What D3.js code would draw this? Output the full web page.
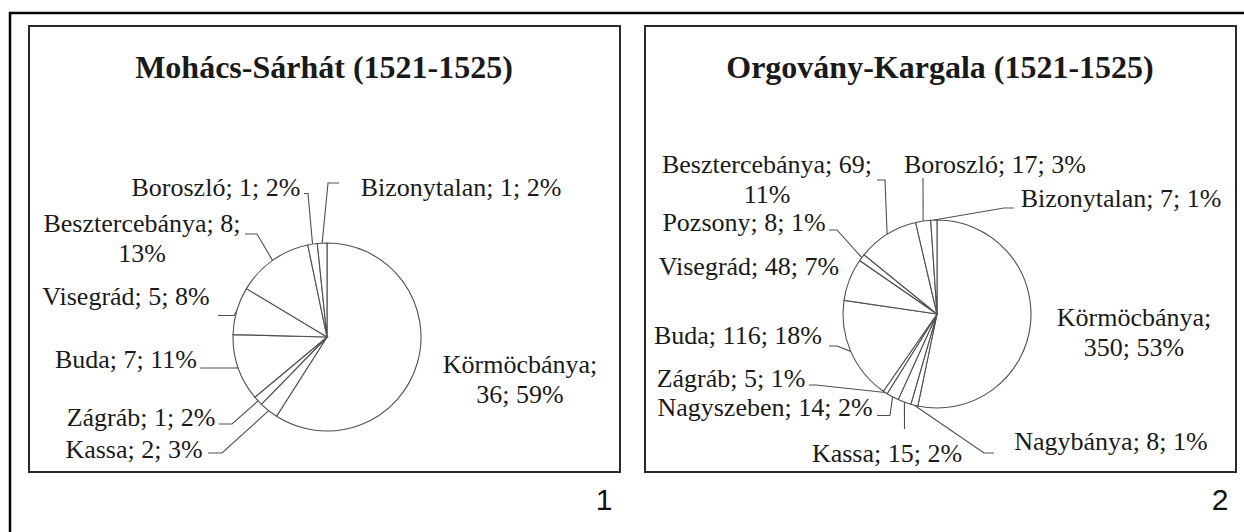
<!DOCTYPE html>
<html>
<head>
<meta charset="utf-8">
<script src="https://cdn.jsdelivr.net/npm/d3@7"></script>
<style>
  body { margin: 0; background: #fff; }
  svg { display: block; }
</style>
</head>
<body>
<div id="chart"></div>
<script>
// two pie charts of coin finds by mint (1521-1525)

var Width = 1244;
var Height = 532;
var Radius = 94;

// data
var mohacsTitle = "Mohács-Sárhát (1521-1525)";
var mohacsCities = ["Körmöcbánya", "Kassa", "Zágráb", "Buda", "Visegrád",
                    "Besztercebánya", "Boroszló", "Bizonytalan"];
var mohacsCounts = [36, 2, 1, 7, 5, 8, 1, 1];

var orgovanyTitle = "Orgovány-Kargala (1521-1525)";
var orgovanyCities = ["Körmöcbánya", "Nagybánya", "Kassa", "Nagyszeben", "Zágráb",
                      "Buda", "Visegrád", "Pozsony", "Besztercebánya", "Boroszló",
                      "Bizonytalan"];
var orgovanyCounts = [350, 8, 15, 14, 5, 116, 48, 8, 69, 17, 7];

var panelNumbers = ["1", "2"];

// label placement (relative to pie centre): text centre x, baseline y, wrap mode
// wrap: 0 = one line, 1 = break after name, 2 = break after count
// leader: [end x, end y, elbow x] or null
var mohacsLayout = [
    {tx: 193, ty: 36, wrap: 1, leader: null},
    {tx: -193, ty: 121, wrap: 0, leader: [-119, 116, -105]},
    {tx: -186, ty: 89, wrap: 0, leader: [-108, 87, -95]},
    {tx: -201, ty: 31, wrap: 0, leader: [-127, 31, -94]},
    {tx: -201, ty: -32, wrap: 0, leader: [-109, -21.5, -93]},
    {tx: -185, ty: -105, wrap: 2, leader: [-82, -103, -70]},
    {tx: -111, ty: -141, wrap: 0, leader: [-23, -143.5, -19]},
    {tx: 134, ty: -141, wrap: 0, leader: [12, -154, 1]}
];

var orgovanyLayout = [
    {tx: 197, ty: 12, wrap: 1, leader: null},
    {tx: 174, ty: 136, wrap: 0, leader: [57, 139, 47]},
    {tx: -50, ty: 147.5, wrap: 0, leader: [-32.5, 115, -32.5]},
    {tx: -172, ty: 102, wrap: 0, leader: [-60, 101.5, -47]},
    {tx: -206, ty: 73, wrap: 0, leader: [-128, 71, -121]},
    {tx: -199, ty: 30, wrap: 0, leader: [-108, 32, -100]},
    {tx: -188, ty: -39, wrap: 0, leader: null},
    {tx: -193, ty: -83, wrap: 0, leader: [-108, -84, -100]},
    {tx: -170, ty: -141, wrap: 2, leader: [-60, -134, -52]},
    {tx: 58, ty: -141, wrap: 0, leader: [-14, -136, -14]},
    {tx: 184, ty: -107, wrap: 0, leader: [77, -106, 67]}
];

var svg = d3.select("#chart").append("svg")
    .attr("width", Width)
    .attr("height", Height);

// outer frame
svg.append("rect")
    .attr("x", 10).attr("y", 13)
    .attr("width", Width + 20).attr("height", Height + 20)
    .attr("fill", "none")
    .attr("stroke", "#000")
    .attr("stroke-width", 2.5);

function drawPanel(x0, title, cities, counts, layout, cx, cy, num) {

    var g = svg.append("g");

    // panel box
    g.append("rect")
        .attr("x", x0).attr("y", 26)
        .attr("width", 591).attr("height", 446)
        .attr("fill", "#fff")
        .attr("stroke", "#2a2a2a")
        .attr("stroke-width", 2);

    g.append("text")
        .attr("x", x0 + 295).attr("y", 78)
        .attr("text-anchor", "middle")
        .attr("font-family", "'Liberation Serif', 'Times New Roman', serif")
        .attr("font-weight", "bold")
        .attr("font-size", "32px")
        .attr("fill", "#1a1a1a")
        .text(title);

    var total = d3.sum(counts);
    var data = cities.map(function(c, i) { return {city: c, count: counts[i]}; });

    var pie = d3.pie().sort(null).value(function(d) { return d.count; });
    var arc = d3.arc().innerRadius(0).outerRadius(Radius);
    var arcs = pie(data);

    var pg = g.append("g").attr("transform", "translate(" + cx + "," + cy + ")");

    pg.selectAll("path.slice")
        .data(arcs)
        .enter().append("path")
        .attr("class", "slice")
        .attr("d", arc)
        .attr("fill", "#fff")
        .attr("stroke", "#505050")
        .attr("stroke-width", 1.1);

    // leader lines from slice edge midpoint
    pg.selectAll("polyline.leader")
        .data(arcs.filter(function(d, i) { return layout[i].leader; }))
        .enter().append("polyline")
        .attr("class", "leader")
        .attr("points", function(d) {
            var L = layout[d.index].leader;
            var a = (d.startAngle + d.endAngle) / 2;
            var p = [Radius * Math.sin(a), -Radius * Math.cos(a)];
            return [p, [L[2], L[1]], [L[0], L[1]]].join(" ");
        })
        .attr("fill", "none")
        .attr("stroke", "#505050")
        .attr("stroke-width", 1.1);

    // labels
    arcs.forEach(function(d, i) {
        var lay = layout[i];
        var pct = Math.round(d.data.count / total * 100) + "%";
        var lines;
        if (lay.wrap === 1) {
            lines = [d.data.city + ";", d.data.count + "; " + pct];
        } else if (lay.wrap === 2) {
            lines = [d.data.city + "; " + d.data.count + ";", pct];
        } else {
            lines = [d.data.city + "; " + d.data.count + "; " + pct];
        }
        var t = pg.append("text")
            .attr("text-anchor", "middle")
            .attr("font-family", "'Liberation Serif', 'Times New Roman', serif")
            .attr("font-size", "26px")
            .attr("fill", "#1a1a1a");
        lines.forEach(function(s, k) {
            t.append("tspan")
                .attr("x", lay.tx)
                .attr("y", lay.ty + k * 30)
                .text(s);
        });
    });

    // panel number
    svg.append("text")
        .attr("x", x0 + 575).attr("y", 510)
        .attr("text-anchor", "middle")
        .attr("font-family", "'Liberation Sans', Arial, sans-serif")
        .attr("font-size", "30px")
        .attr("fill", "#111")
        .text(num);
}

drawPanel(29, mohacsTitle, mohacsCities, mohacsCounts, mohacsLayout, 327, 337, panelNumbers[0]);
drawPanel(645, orgovanyTitle, orgovanyCities, orgovanyCounts, orgovanyLayout, 937, 314, panelNumbers[1]);
</script>
</body>
</html>
